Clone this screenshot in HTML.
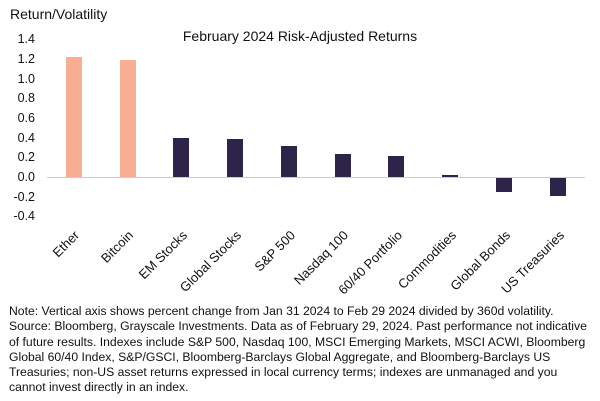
<!DOCTYPE html>
<html><head><style>
body{margin:0;background:#fff;width:600px;height:401px;overflow:hidden;font-family:"Liberation Sans",sans-serif;color:#111}
.note{position:absolute;left:9px;top:304px;width:595px;font-size:12.2px;line-height:15.3px;white-space:nowrap}
</style></head><body>
<svg width="600" height="300" style="position:absolute;left:0;top:0" font-family="Liberation Sans, sans-serif">
<text x="10" y="19" font-size="14" fill="#111">Return/Volatility</text>
<text x="300" y="41" font-size="14" text-anchor="middle" fill="#111">February 2024 Risk-Adjusted Returns</text>
<g font-size="12.5" fill="#111" text-anchor="end">
<text x="35" y="43">1.4</text><text x="35" y="63">1.2</text><text x="35" y="83">1.0</text><text x="35" y="102">0.8</text><text x="35" y="122">0.6</text><text x="35" y="142">0.4</text><text x="35" y="161">0.2</text><text x="35" y="181">0.0</text><text x="35" y="201">-0.2</text><text x="35" y="220">-0.4</text>
</g>
<line x1="47" y1="177.5" x2="585" y2="177.5" stroke="#ccc" stroke-width="1"/>
<g>
<rect x="66" y="57" width="16" height="120" fill="#f9ad92"/>
<rect x="120" y="60" width="16" height="117" fill="#f9ad92"/>
<g fill="#2d2549">
<rect x="173" y="138" width="16" height="39"/>
<rect x="227" y="139" width="16" height="38"/>
<rect x="281" y="146" width="16" height="31"/>
<rect x="335" y="154" width="16" height="23"/>
<rect x="388" y="156" width="16" height="21"/>
<rect x="442" y="175" width="16" height="2"/>
<rect x="496" y="178" width="16" height="14"/>
<rect x="550" y="178" width="16" height="18"/>
</g></g>
<g font-size="13" fill="#111" text-anchor="end">
<text transform="translate(80,236) rotate(-45)">Ether</text>
<text transform="translate(134,236) rotate(-45)">Bitcoin</text>
<text transform="translate(188,236) rotate(-45)">EM Stocks</text>
<text transform="translate(242,236) rotate(-45)">Global Stocks</text>
<text transform="translate(296,236) rotate(-45)">S&amp;P 500</text>
<text transform="translate(349,236) rotate(-45)">Nasdaq 100</text>
<text transform="translate(403,236) rotate(-45)">60/40 Portfolio</text>
<text transform="translate(457,236) rotate(-45)">Commodities</text>
<text transform="translate(511,236) rotate(-45)">Global Bonds</text>
<text transform="translate(565,236) rotate(-45)">US Treasuries</text>
</g>
</svg>
<div class="note">Note: Vertical axis shows percent change from Jan 31 2024 to Feb 29 2024 divided by 360d volatility.<br>Source: Bloomberg, Grayscale Investments. Data as of February 29, 2024. Past performance not indicative<br>of future results. Indexes include S&amp;P 500, Nasdaq 100, MSCI Emerging Markets, MSCI ACWI, Bloomberg<br>Global 60/40 Index, S&amp;P/GSCI, Bloomberg-Barclays Global Aggregate, and Bloomberg-Barclays US<br>Treasuries; non-US asset returns expressed in local currency terms; indexes are unmanaged and you<br>cannot invest directly in an index.</div>
</body></html>
